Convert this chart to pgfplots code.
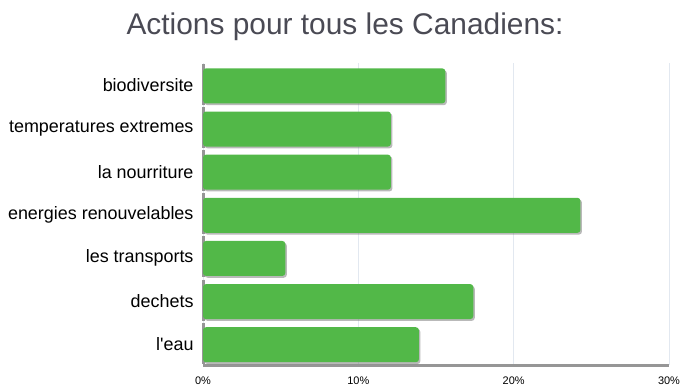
\documentclass[border=0pt]{standalone}
\usepackage{pgfplots}
\pgfplotsset{compat=1.18}
\usepackage{fontspec}
\setmainfont{Liberation Sans}
\definecolor{barg}{RGB}{82,184,72}
\definecolor{titleg}{RGB}{74,74,84}
\definecolor{gridc}{RGB}{226,232,240}
\definecolor{axg}{RGB}{150,150,150}
\begin{document}
\begin{tikzpicture}[x=1bp,y=1bp]
\path[use as bounding box] (0,0) rectangle (692,390);
\node[font=\fontsize{30}{30}\selectfont, text=titleg] at (345,363) {Actions pour tous les Canadiens:};
\begin{axis}[
  at={(203bp,25bp)}, anchor=south west,
  scale only axis, width=466bp, height=302bp,
  xmin=0, xmax=30, ymin=-0.5, ymax=6.5,
  y dir=reverse,
  xbar, bar width=35bp, bar shift=-1.3bp,
  xtick={0,10,20,30},
  xticklabels={0\%,10\%,20\%,30\%},
  xticklabel style={font=\fontsize{11}{11}\selectfont, yshift=-8bp},
  ytick={0,...,6},
  yticklabels={biodiversite,temperatures extremes,la nourriture,energies renouvelables,les transports,dechets,l\textquotesingle eau},
  yticklabel style={font=\fontsize{18}{18}\selectfont, xshift=-6bp, yshift=-1bp},
  major tick length=0pt,
  xmajorgrids, major grid style={gridc, line width=0.8bp},
  axis line style={draw=none},
  /pgf/number format/assume math mode=true,
  clip=false,
]
\draw[axg, line width=3bp] (axis cs:0,6.5) -- (axis cs:30,6.5);
\pgfplotsinvokeforeach{0,...,6}{
  \draw[axg, line width=3bp] (axis cs:0,#1-0.48) -- (axis cs:0,#1+0.47);
}
\addplot[fill=black!55, draw=none, rounded corners=3bp, opacity=0.5, xshift=1.5bp, yshift=-1.8bp]
  coordinates {(15.6,0) (12.1,1) (12.1,2) (24.3,3) (5.3,4) (17.4,5) (13.9,6)};
\addplot[fill=barg, draw=none, rounded corners=3bp]
  coordinates {(15.6,0) (12.1,1) (12.1,2) (24.3,3) (5.3,4) (17.4,5) (13.9,6)};
\end{axis}
\end{tikzpicture}
\end{document}
